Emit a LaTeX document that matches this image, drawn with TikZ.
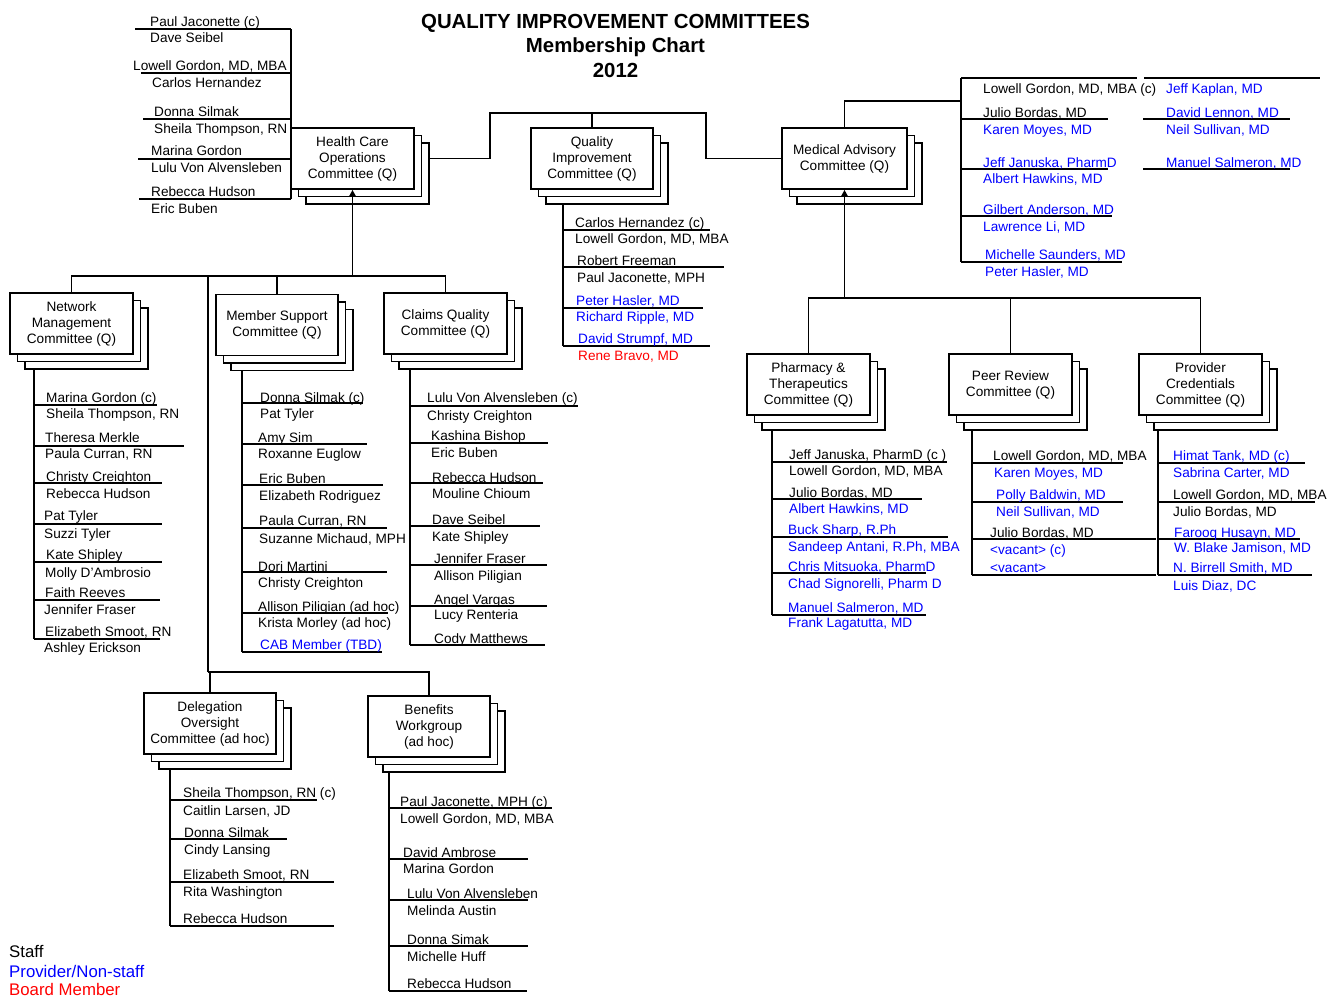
\documentclass[tikz,border=0pt]{standalone}
\usepackage{fontspec}
\setmainfont{Liberation Sans}
\usepackage{xcolor}
\usetikzlibrary{arrows.meta,backgrounds,shadows}

\definecolor{provblue}{RGB}{0,0,255}
\definecolor{boardred}{RGB}{255,0,0}
\newcommand\prov{\color{provblue}}
\newcommand\board{\color{boardred}}
\newcommand\nmfont{\fontsize{13.6}{16}\selectfont}

\tikzset{
  cbox/.style={draw, fill=white, line width=1.7pt, minimum height=61pt, inner sep=1pt,
    align=center, font=\nmfont,
    copy shadow={shadow xshift=15pt, shadow yshift=-15pt, draw=black, fill=white},
    copy shadow={shadow xshift=7.5pt, shadow yshift=-7.5pt, draw=black, fill=white}},
  nm/.style={anchor=base west, inner sep=0pt, font=\nmfont},
  ttl/.style={anchor=base, inner sep=0pt, font=\fontsize{20.4}{24}\selectfont\bfseries},
  lgd/.style={anchor=base west, inner sep=0pt, font=\fontsize{16.8}{20}\selectfont},
  rule/.style={line width=1.7pt},
  up/.style={rule, -{Triangle[length=7pt,width=7pt]}},
}

\begin{document}
\begin{tikzpicture}[x=1pt,y=-1pt]
  \useasboundingbox (0,0) rectangle (1327,996);

  % title
  \node[ttl] (ttl1) at (615.5,28) {QUALITY IMPROVEMENT COMMITTEES};
  \node[ttl] (ttl2) at (615.5,52) {Membership Chart};
  \node[ttl] (ttl3) at (615.5,77) {2012};

  % committees
  \node[cbox, minimum width=123pt] (hco) at (352.5,158.5) {Health Care\\Operations\\Committee (Q)};
  \node[cbox, minimum width=122pt] (qic) at (592,158.5) {Quality\\Improvement\\Committee (Q)};
  \node[cbox, minimum width=125pt] (mac) at (844.5,158.5) {Medical Advisory\\Committee (Q)};
  \node[cbox, minimum width=123pt] (nmc) at (71.5,323.5) {Network\\Management\\Committee (Q)};
  \node[cbox, minimum width=122pt] (msc) at (277,325) {Member Support\\Committee (Q)};
  \node[cbox, minimum width=123pt] (cqc) at (445.5,323.5) {Claims Quality\\Committee (Q)};
  \node[cbox, minimum width=123pt] (ptc) at (808.5,384.5) {Pharmacy \&\\Therapeutics\\Committee (Q)};
  \node[cbox, minimum width=123pt] (prc) at (1010.5,384.5) {Peer Review\\Committee (Q)};
  \node[cbox, minimum width=123pt] (pcc) at (1200.5,384.5) {Provider\\Credentials\\Committee (Q)};
  \node[cbox, minimum width=132pt] (doc) at (210,723.5) {Delegation\\Oversight\\Committee (ad hoc)};
  \node[cbox, minimum width=122pt] (bwg) at (429,726.5) {Benefits\\Workgroup\\(ad hoc)};

  % arrows into the reporting committees
  \draw[up] (hco.south |- 0,276) -- (hco.south);
  \draw[up] (mac.south |- 0,298) -- (mac.south);

  \begin{scope}[on background layer]
    % tree connectors
    \draw[rule] (qic.north) -- (qic.north |- 0,113);
    \draw[rule] (hco.east) -- (490,0 |- hco.east) |- (706,113) |- (mac.west);
    \draw[rule] (mac.north) |- (961,101);
    \draw[rule] (nmc.north) -- (nmc.north |- 0,276) -| (cqc.north);
    \draw[rule] (msc.north) -- (msc.north |- 0,276);
    \draw[rule] (208,276) -- (208,672);
    \draw[rule] (208,672) -| (doc.north);
    \draw[rule] (208,672) -| (bwg.north);
    \draw[rule] (ptc.north) -- (ptc.north |- 0,298) -| (pcc.north);
    \draw[rule] (prc.north) -- (prc.north |- 0,298);

    % spines of the member lists
    \draw[rule] (291,29) -- (291,199);
    \draw[rule] (563,0 |- qic.center) -- (563,346);
    \draw[rule] (961,78) -- (961,262);
    \draw[rule] (34,0 |- nmc.center) -- (34,639);
    \draw[rule] (242,0 |- msc.center) -- (242,652);
    \draw[rule] (410,0 |- cqc.center) -- (410,645);
    \draw[rule] (772,0 |- ptc.center) -- (772,615);
    \draw[rule] (972,0 |- prc.center) -- (972,575);
    \draw[rule] (1158,0 |- pcc.center) -- (1158,575);
    \draw[rule] (170,0 |- doc.center) -- (170,926);
    \draw[rule] (389,0 |- bwg.center) -- (389,991);
  \end{scope}

  % rules between pairs of names
  \foreach \y/\e in {29/135, 73/141, 119/143, 159/138, 199/139}
    \draw[rule] (\e,\y) -- (291,\y);
  \foreach \y/\e in {230/710, 267/724, 308/703, 346/710}
    \draw[rule] (563,\y) -- (\e,\y);
  \foreach \y/\s/\e in {78/961/1137, 78/1144/1320, 119/961/1108, 119/1143/1290,
      169/961/1108, 169/1143/1290, 216/961/1112, 262/961/1122}
    \draw[rule] (\s,\y) -- (\e,\y);
  \foreach \y/\e in {405/157, 446/184, 483/162, 524/162, 562/162, 600/160, 639/160}
    \draw[rule] (34,\y) -- (\e,\y);
  \foreach \y/\e in {403/363, 444/367, 485/383, 528/387, 572/387, 613/388, 652/382}
    \draw[rule] (242,\y) -- (\e,\y);
  \foreach \y/\e in {406/578, 443/548, 483/543, 526/540, 565/547, 606/547, 645/545}
    \draw[rule] (410,\y) -- (\e,\y);
  \foreach \y/\e in {462/947, 499/922, 537/948, 573/926, 615/926}
    \draw[rule] (772,\y) -- (\e,\y);
  \foreach \y/\e in {463/1123, 502/1123, 539/1156, 575/1156}
    \draw[rule] (972,\y) -- (\e,\y);
  \foreach \y/\e in {463/1305, 502/1315, 539/1300, 575/1312}
    \draw[rule] (1158,\y) -- (\e,\y);
  \foreach \y/\e in {800/317, 839/287, 882/334, 926/334}
    \draw[rule] (170,\y) -- (\e,\y);
  \foreach \y/\e in {808/552, 859/528, 900/528, 946/528, 991/527}
    \draw[rule] (389,\y) -- (\e,\y);

  % Health Care Operations
  \foreach \x/\y/\t in {150/26/Paul Jaconette (c), 150/42/Dave Seibel,
      133/70/{Lowell Gordon, MD, MBA}, 152/87/Carlos Hernandez, 154/116/Donna Silmak,
      154/133/{Sheila Thompson, RN}, 151/155/Marina Gordon, 151/172/Lulu Von Alvensleben,
      151/196/Rebecca Hudson, 151/213/Eric Buben}
    \node[nm] (n\x-\y) at (\x,\y) {\t};
  % Quality Improvement
  \foreach \x/\y/\t in {575/227/Carlos Hernandez (c), 575/243/{Lowell Gordon, MD, MBA},
      577/265/Robert Freeman, 577/282/{Paul Jaconette, MPH},
      576/305/{\prov Peter Hasler, MD}, 576/321/{\prov Richard Ripple, MD},
      578/343/{\prov David Strumpf, MD}, 578/360/{\board Rene Bravo, MD}}
    \node[nm] (n\x-\y) at (\x,\y) {\t};
  % Medical Advisory
  \foreach \x/\y/\t in {983/93/{Lowell Gordon, MD, MBA (c)}, 1166/93/{\prov Jeff Kaplan, MD},
      983/117/{Julio Bordas, MD}, 983/134/{\prov Karen Moyes, MD},
      1166/117/{\prov David Lennon, MD}, 1166/134/{\prov Neil Sullivan, MD},
      983/167/{\prov Jeff Januska, PharmD}, 983/183/{\prov Albert Hawkins, MD},
      1166/167/{\prov Manuel Salmeron, MD},
      983/214/{\prov Gilbert Anderson, MD}, 983/231/{\prov Lawrence Li, MD},
      985/259/{\prov Michelle Saunders, MD}, 985/276/{\prov Peter Hasler, MD}}
    \node[nm] (n\x-\y) at (\x,\y) {\t};
  % Network Management
  \foreach \x/\y/\t in {46/402/Marina Gordon (c), 46/418/{Sheila Thompson, RN},
      45/442/Theresa Merkle, 45/458/{Paula Curran, RN},
      46/481/Christy Creighton, 46/498/Rebecca Hudson,
      44/520/Pat Tyler, 44/538/Suzzi Tyler,
      46/559/Kate Shipley, 45/577/Molly D'Ambrosio,
      45/597/Faith Reeves, 44/614/Jennifer Fraser,
      45/636/{Elizabeth Smoot, RN}, 44/652/Ashley Erickson}
    \node[nm] (n\x-\y) at (\x,\y) {\t};
  % Member Support
  \foreach \x/\y/\t in {260/402/Donna Silmak (c), 260/418/Pat Tyler,
      258/442/Amy Sim, 258/458/Roxanne Euglow,
      259/483/Eric Buben, 259/500/Elizabeth Rodriguez,
      259/525/{Paula Curran, RN}, 259/543/{Suzanne Michaud, MPH},
      258/571/Dori Martini, 258/587/Christy Creighton,
      258/611/Allison Piligian (ad hoc), 258/627/Krista Morley (ad hoc),
      260/649/{\prov CAB Member (TBD)}}
    \node[nm] (n\x-\y) at (\x,\y) {\t};
  % Claims Quality
  \foreach \x/\y/\t in {427/402/Lulu Von Alvensleben (c), 427/420/Christy Creighton,
      431/440/Kashina Bishop, 431/457/Eric Buben,
      432/482/Rebecca Hudson, 432/498/Mouline Chioum,
      432/524/Dave Seibel, 432/541/Kate Shipley,
      434/563/Jennifer Fraser, 434/580/Allison Piligian,
      434/604/Angel Vargas, 434/619/Lucy Renteria,
      434/643/Cody Matthews}
    \node[nm] (n\x-\y) at (\x,\y) {\t};
  % Pharmacy & Therapeutics
  \foreach \x/\y/\t in {789/459/{Jeff Januska, PharmD (c )}, 789/475/{Lowell Gordon, MD, MBA},
      789/497/{Julio Bordas, MD}, 789/513/{\prov Albert Hawkins, MD},
      788/534/{\prov Buck Sharp, R.Ph}, 788/551/{\prov Sandeep Antani, R.Ph, MBA},
      788/571/{\prov Chris Mitsuoka, PharmD}, 788/588/{\prov Chad Signorelli, Pharm D},
      788/612/{\prov Manuel Salmeron, MD}, 788/627/{\prov Frank Lagatutta, MD}}
    \node[nm] (n\x-\y) at (\x,\y) {\t};
  % Peer Review
  \foreach \x/\y/\t in {993/460/{Lowell Gordon, MD, MBA}, 994/477/{\prov Karen Moyes, MD},
      996/499/{\prov Polly Baldwin, MD}, 996/516/{\prov Neil Sullivan, MD},
      990/537/{Julio Bordas, MD}, 990/554/{\prov <vacant> (c)},
      990/572/{\prov <vacant>}}
    \node[nm] (n\x-\y) at (\x,\y) {\t};
  % Provider Credentials
  \foreach \x/\y/\t in {1173/460/{\prov Himat Tank, MD (c)}, 1173/477/{\prov Sabrina Carter, MD},
      1173/499/{Lowell Gordon, MD, MBA}, 1173/516/{Julio Bordas, MD},
      1174/537/{\prov Farooq Husayn, MD}, 1174/552/{\prov W. Blake Jamison, MD},
      1173/572/{\prov N. Birrell Smith, MD}, 1173/590/{\prov Luis Diaz, DC}}
    \node[nm] (n\x-\y) at (\x,\y) {\t};
  % Delegation Oversight
  \foreach \x/\y/\t in {183/797/{Sheila Thompson, RN (c)}, 183/815/{Caitlin Larsen, JD},
      184/837/Donna Silmak, 184/854/Cindy Lansing,
      183/879/{Elizabeth Smoot, RN}, 183/896/Rita Washington,
      183/923/Rebecca Hudson}
    \node[nm] (n\x-\y) at (\x,\y) {\t};
  % Benefits Workgroup
  \foreach \x/\y/\t in {400/806/{Paul Jaconette, MPH (c)}, 400/823/{Lowell Gordon, MD, MBA},
      403/857/David Ambrose, 403/873/Marina Gordon,
      407/898/Lulu Von Alvensleben, 407/915/Melinda Austin,
      407/944/Donna Simak, 407/961/Michelle Huff,
      407/988/Rebecca Hudson}
    \node[nm] (n\x-\y) at (\x,\y) {\t};

  % legend
  \node[lgd] (lgstaff) at (9,957) {Staff};
  \node[lgd, text=provblue] (lgprov) at (9,977) {Provider/Non-staff};
  \node[lgd, text=boardred] (lgboard) at (9,995) {Board Member};
\end{tikzpicture}
\end{document}
